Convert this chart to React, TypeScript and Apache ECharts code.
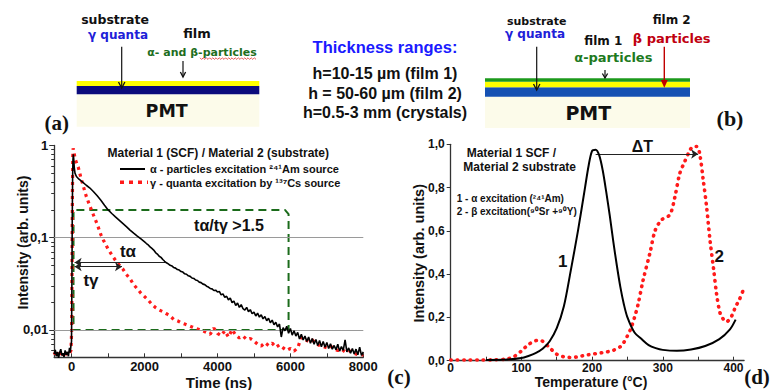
import React, { useEffect, useRef } from 'react';
import * as echarts from 'echarts';

const SANS = '"Liberation Sans", Arial, sans-serif';
const DIAG = '"DejaVu Sans", Verdana, sans-serif';
const SERIF = '"Liberation Serif", "Times New Roman", serif';

// ---------- (c) decay kinetics ----------
const decayTimeLabels = [0, 2000, 4000, 6000, 8000];
const decayTimeTicks = [0, 1000, 2000, 3000, 4000, 5000, 6000, 7000, 8000];
const decayIntensityLabels = [0.01, 0.1, 1];
const decayMinIntensity = 0.00506;
const gridLevels = [0.1, 0.01];

const alphaDecay: [number, number][] = [
  [-480, 0.0055], [-450, 0.0061], [-420, 0.0052], [-390, 0.0058], [-360, 0.005], [-330, 0.0057],
  [-300, 0.0062], [-270, 0.0053], [-240, 0.0056], [-210, 0.0051], [-180, 0.006], [-150, 0.0054],
  [-120, 0.0058], [-90, 0.0052], [-60, 0.0064], [-40, 0.0057], [-20, 0.0068], [-5, 0.0075],
  [5, 0.03], [15, 0.15], [25, 0.45], [35, 0.7], [45, 0.8], [55, 0.72], [70, 0.58], [90, 0.5],
  [130, 0.46], [200, 0.43], [300, 0.4], [400, 0.37], [500, 0.345], [600, 0.315], [700, 0.285],
  [800, 0.255], [900, 0.225], [1000, 0.2], [1100, 0.183], [1200, 0.168], [1300, 0.155],
  [1400, 0.143], [1500, 0.132], [1600, 0.121], [1700, 0.112], [1800, 0.104], [1900, 0.097],
  [2000, 0.09], [2050, 0.0865], [2100, 0.0835], [2150, 0.0795], [2200, 0.0765], [2250, 0.0735],
  [2300, 0.069], [2350, 0.0665], [2400, 0.063], [2450, 0.0612], [2500, 0.058],
  [2550, 0.0555], [2600, 0.0535], [2650, 0.052], [2700, 0.0502], [2750, 0.0494], [2800, 0.0475],
  [2850, 0.0468], [2900, 0.0452], [2950, 0.0446], [3000, 0.043], [3050, 0.0424], [3100, 0.0406],
  [3150, 0.0402], [3200, 0.0386], [3250, 0.0381], [3300, 0.0366], [3350, 0.0362], [3400, 0.0348],
  [3450, 0.0344], [3500, 0.033], [3550, 0.0326], [3600, 0.0314], [3650, 0.031], [3700, 0.0298],
  [3750, 0.0292], [3800, 0.0282], [3850, 0.0279], [3900, 0.0268], [3950, 0.027], [4000, 0.0258],
  [4050, 0.0262], [4100, 0.024], [4150, 0.0246], [4200, 0.0226], [4250, 0.0232], [4300, 0.0212],
  [4350, 0.0222], [4400, 0.0198], [4450, 0.0206], [4500, 0.0184], [4550, 0.0196], [4600, 0.0176],
  [4650, 0.0188], [4700, 0.017], [4750, 0.0164], [4800, 0.0176], [4850, 0.0158], [4900, 0.0166],
  [4950, 0.015], [5000, 0.0156], [5050, 0.0142], [5100, 0.0152], [5150, 0.0138], [5200, 0.0146],
  [5250, 0.0132], [5300, 0.014], [5350, 0.0126], [5400, 0.0134], [5450, 0.012], [5500, 0.0128],
  [5550, 0.0114], [5600, 0.0121], [5650, 0.0108], [5700, 0.0116], [5750, 0.0084], [5800, 0.0106],
  [5850, 0.0098], [5900, 0.011], [5950, 0.0092], [6000, 0.0104], [6050, 0.0088], [6100, 0.0098],
  [6150, 0.0086], [6200, 0.0094], [6250, 0.008], [6300, 0.009], [6350, 0.0078], [6400, 0.0086],
  [6450, 0.0075], [6500, 0.0084], [6550, 0.0072], [6600, 0.0081], [6650, 0.007], [6700, 0.0079],
  [6750, 0.0068], [6800, 0.0077], [6850, 0.0066], [6900, 0.0075], [6950, 0.0065], [7000, 0.0073],
  [7050, 0.0063], [7100, 0.0071], [7150, 0.0062], [7200, 0.0068], [7250, 0.0061], [7300, 0.007],
  [7350, 0.0059], [7400, 0.0066], [7450, 0.006], [7500, 0.0078], [7550, 0.0058], [7600, 0.0064],
  [7650, 0.0056], [7700, 0.0063], [7750, 0.0055], [7800, 0.0062], [7850, 0.0054], [7900, 0.0065],
  [7950, 0.0053], [8000, 0.0058],
];

const gammaDecay: [number, number][] = [
  [-480, 0.0054], [-420, 0.006], [-360, 0.0051], [-300, 0.0057], [-240, 0.0052], [-180, 0.0059],
  [-120, 0.0053], [-60, 0.0056], [-20, 0.006], [0, 0.01], [10, 0.05], [20, 0.3], [30, 0.75],
  [40, 0.93], [60, 0.85], [100, 0.7], [180, 0.58], [250, 0.45], [320, 0.36], [400, 0.28],
  [500, 0.22], [600, 0.175], [700, 0.14], [800, 0.108], [870, 0.094], [1000, 0.075], [1100, 0.065],
  [1200, 0.057], [1300, 0.051], [1400, 0.046], [1500, 0.04], [1600, 0.036], [1700, 0.031],
  [1800, 0.028], [1900, 0.025], [2000, 0.023], [2100, 0.021], [2200, 0.019], [2300, 0.0175],
  [2400, 0.0165], [2500, 0.0158], [2600, 0.015], [2700, 0.0142], [2800, 0.013], [2900, 0.0126],
  [3000, 0.012], [3100, 0.0116], [3200, 0.0112], [3300, 0.0108], [3400, 0.0104], [3500, 0.0101],
  [3600, 0.0098], [3700, 0.0094], [3800, 0.009], [3900, 0.0105], [4000, 0.0092], [4100, 0.0087],
  [4200, 0.0098], [4300, 0.0084], [4400, 0.0101], [4500, 0.0088], [4600, 0.0082], [4700, 0.0086],
  [4800, 0.0079], [4900, 0.0081], [5000, 0.0076], [5100, 0.007], [5200, 0.0067], [5300, 0.0073],
  [5400, 0.0068], [5500, 0.0072], [5600, 0.0065], [5700, 0.0069], [5800, 0.0064], [5900, 0.006],
  [6000, 0.0063], [6100, 0.0059], [6200, 0.0064], [6300, 0.0083], [6400, 0.0079], [6500, 0.0075],
  [6600, 0.0078], [6700, 0.0071], [6800, 0.0068], [6900, 0.0066], [7000, 0.0064], [7100, 0.0067],
  [7200, 0.0062], [7300, 0.006], [7400, 0.0062], [7500, 0.0058], [7600, 0.006], [7700, 0.0057],
  [7800, 0.0055], [7900, 0.0053], [8000, 0.0054],
];

const ratioBox: [number, number][] = [
  [5950, 0.01], [50, 0.01], [50, 0.2], [5850, 0.2], [5950, 0.18], [5950, 0.01],
];
const tAlpha = { from: 80, to: 2560, level: 0.054 };
const tGamma = { from: 80, to: 1380, level: 0.0485 };

// ---------- (d) thermoluminescence ----------
const tlTempLabels = [0, 100, 200, 300, 400];
const tlTempTicks = [0, 50, 100, 150, 200, 250, 300, 350, 400];
const tlIntensityLabels = [0, 0.2, 0.4, 0.6, 0.8, 1.0];
const alphaTLTemp = [50, 80, 100, 110, 120, 130, 140, 150, 160, 170, 180, 190, 195, 200, 205, 210, 215, 220, 225, 230, 235, 240, 245, 250, 260, 270, 280, 290, 300, 320, 340, 360, 380, 395, 403];
const alphaTL = [0.003, 0.005, 0.012, 0.022, 0.035, 0.055, 0.09, 0.15, 0.25, 0.42, 0.6, 0.8, 0.9, 0.97, 0.975, 0.95, 0.88, 0.78, 0.67, 0.55, 0.44, 0.34, 0.26, 0.2, 0.13, 0.1, 0.072, 0.058, 0.05, 0.046, 0.052, 0.068, 0.1, 0.145, 0.19];
const betaTLTemp = [0, 20, 40, 60, 80, 90, 100, 110, 120, 125, 130, 140, 150, 160, 170, 180, 190, 200, 210, 220, 230, 240, 245, 250, 255, 260, 265, 272, 282, 289, 298, 310, 317, 324, 331, 338, 343, 348, 352, 357, 362, 367, 372, 376, 381, 386, 390, 394, 398, 403, 408, 413];
const betaTL = [0.003, 0.003, 0.003, 0.004, 0.008, 0.02, 0.045, 0.075, 0.092, 0.095, 0.09, 0.06, 0.03, 0.018, 0.015, 0.018, 0.025, 0.03, 0.035, 0.04, 0.048, 0.065, 0.085, 0.115, 0.15, 0.2, 0.26, 0.37, 0.5, 0.6, 0.65, 0.675, 0.755, 0.865, 0.92, 0.97, 0.99, 0.99, 0.96, 0.84, 0.71, 0.55, 0.42, 0.31, 0.22, 0.19, 0.18, 0.19, 0.21, 0.25, 0.28, 0.32];
const deltaT = { from: 205, to: 350, level: 0.955 };

const lg = (v: number) => Math.log10(v);

function txt(x: number, y: number, text: string, font: string, fill = '#111', align = 'center', rotation = 0): any {
  return { type: 'text', x, y, rotation, silent: true, z: 100, style: { text, font, fill, align, verticalAlign: 'middle' } };
}
function ln(x1: number, y1: number, x2: number, y2: number, stroke = '#111', lineWidth = 1.2, lineDash?: number[]): any {
  return { type: 'line', silent: true, z: 100, shape: { x1, y1, x2, y2 }, style: { stroke, lineWidth, lineDash } };
}
function rect(x: number, y: number, width: number, height: number, fill: string): any {
  return { type: 'rect', silent: true, z: 90, shape: { x, y, width, height }, style: { fill } };
}
function chevron(x: number, y: number, stroke = '#111', w = 3.2, h = 6): any {
  return { type: 'polyline', silent: true, z: 100, shape: { points: [[x - w, y - h], [x, y], [x + w, y - h]] }, style: { stroke, lineWidth: 1.3, fill: null } };
}

function buildGraphics(): any[] {
  const g: any[] = [];
  // (a)
  g.push(rect(76.7, 94.3, 182.6, 32.4, '#fcfbea'));
  g.push(rect(76.7, 86, 182.6, 8.3, '#0b0b7c'));
  g.push(rect(76.7, 81, 182.6, 5, '#ffff00'));
  g.push(ln(121.7, 46.7, 121.7, 88));
  g.push(chevron(121.7, 88));
  g.push(ln(183, 61, 183, 77));
  g.push(chevron(183, 77, '#111', 2.6, 5));
  g.push(txt(115, 19.3, 'substrate', `bold 12.5px ${DIAG}`));
  g.push(txt(118, 35, 'γ quanta', `bold 12px ${DIAG}`, '#2020d8'));
  g.push(txt(197, 33, 'film', `bold 13px ${DIAG}`));
  g.push(txt(202, 52, 'α- and β-particles', `bold 11px ${DIAG}`, '#1e6e1e'));
  const squiggle: number[][] = [];
  for (let x = 200; x <= 257; x += 1.6) squiggle.push([x, 58.6 + ((Math.round((x - 200) / 1.6) % 2) ? 0.8 : -0.8)]);
  g.push({ type: 'polyline', silent: true, z: 100, shape: { points: squiggle }, style: { stroke: '#e03030', lineWidth: 0.8, fill: null } });
  g.push(txt(166.7, 110.5, 'PMT', `bold 17.5px ${DIAG}`));
  g.push(txt(56.7, 123, '(a)', `bold 21px ${SERIF}`));
  // middle text
  g.push(txt(385, 46.7, 'Thickness ranges:', `bold 16.5px ${SANS}`, '#1a1aff'));
  g.push(txt(385, 73.3, 'h=10-15 µm (film 1)', `bold 16px ${SANS}`));
  g.push(txt(385, 93.3, 'h = 50-60 µm (film 2)', `bold 16px ${SANS}`));
  g.push(txt(385, 112.7, 'h=0.5-3 mm (crystals)', `bold 16px ${SANS}`));
  // (b)
  g.push(rect(485, 96.7, 205, 31.3, '#fcfbea'));
  g.push(rect(485, 87.3, 205, 9.4, '#1551b3'));
  g.push(rect(485, 81.7, 205, 5.6, '#ffff00'));
  g.push(rect(485, 78.3, 205, 3.4, '#1c9a1c'));
  g.push(ln(536.7, 46.7, 536.7, 90));
  g.push(chevron(536.7, 90));
  g.push(ln(605, 70, 605, 78));
  g.push(chevron(605, 78, '#111', 2.6, 4.5));
  g.push(ln(664.3, 46.7, 664.3, 82, '#c00000', 1.4));
  g.push({ type: 'polygon', silent: true, z: 100, shape: { points: [[660.8, 80], [664.3, 87.8], [667.8, 80]] }, style: { fill: '#c00000' } });
  g.push(txt(536.7, 21.8, 'substrate', `bold 11px ${DIAG}`));
  g.push(txt(535, 33.8, 'γ quanta', `bold 12px ${DIAG}`, '#2020d8'));
  g.push(txt(671.7, 20, 'film 2', `bold 12px ${DIAG}`));
  g.push(txt(671.7, 38.3, 'β particles', `bold 13px ${DIAG}`, '#c00010'));
  g.push(txt(603.3, 40.7, 'film 1', `bold 12px ${DIAG}`));
  g.push(txt(613.3, 57.3, 'α-particles', `bold 13px ${DIAG}`, '#1e7a1e'));
  g.push(txt(588.3, 113.3, 'PMT', `bold 19px ${DIAG}`));
  g.push(txt(730, 118.3, '(b)', `bold 22px ${SERIF}`));
  // (c) annotations
  g.push(txt(218.3, 153.3, 'Material 1 (SCF) / Material 2 (substrate)', `bold 12px ${SANS}`));
  g.push(ln(120, 169, 145, 169, '#000', 2));
  g.push(txt(150, 169, 'α - particles excitation ²⁴¹Am source', `bold 11px ${SANS}`, '#111', 'left'));
  g.push(ln(120, 182.3, 148, 182.3, '#ff1a1a', 3.5, [4, 5]));
  g.push(txt(150, 182.5, 'γ - quanta excitation by ¹³⁷Cs source', `bold 11px ${SANS}`, '#111', 'left'));
  g.push(txt(229, 225, 'tα/tγ >1.5', `bold 16px ${SANS}`));
  g.push(txt(128, 251.7, 'tα', `bold 17px ${SANS}`));
  g.push(txt(91, 280, 'tγ', `bold 17px ${SANS}`));
  g.push(txt(22.5, 242.5, 'Intensity (arb. units)', `bold 14px ${SANS}`, '#111', 'center', Math.PI / 2));
  g.push(txt(219, 382, 'Time (ns)', `bold 15px ${SANS}`));
  g.push(txt(399, 377, '(c)', `bold 21px ${SERIF}`));
  // (d) annotations
  g.push(txt(466.7, 152.7, 'Material 1 SCF /', `bold 12px ${SANS}`, '#111', 'left'));
  g.push(txt(463.3, 166.7, 'Material 2 substrate', `bold 12px ${SANS}`, '#111', 'left'));
  g.push(txt(456.7, 198.3, '1 - α excitation (²⁴¹Am)', `bold 10px ${SANS}`, '#111', 'left'));
  g.push(txt(456.7, 211.7, '2 - β excitation(⁹⁰Sr +⁹⁰Y)', `bold 10px ${SANS}`, '#111', 'left'));
  g.push(txt(642.3, 146.7, 'ΔT', `bold 16px ${SANS}`));
  g.push(txt(562.7, 261.7, '1', `bold 17px ${SANS}`));
  g.push(txt(719.3, 256, '2', `bold 17px ${SANS}`));
  g.push(txt(419, 253.3, 'Intensity (arb. units)', `bold 14.5px ${SANS}`, '#111', 'center', Math.PI / 2));
  g.push(txt(591, 382, 'Temperature (°C)', `bold 14px ${SANS}`));
  g.push(txt(757, 377, '(d)', `bold 21px ${SERIF}`));
  return g;
}

function buildOption(): any {
  const yMinC = lg(decayMinIntensity);
  const minorLog: number[] = [];
  [-3, -2, -1].forEach((k) => {
    for (let m = 2; m <= 9; m++) {
      const v = k + Math.log10(m);
      if (v >= yMinC) minorLog.push(v);
    }
  });
  const axisLine = { onZero: false, lineStyle: { color: '#333', width: 1.3 } };
  const tickStyle = { color: '#333', width: 1 };
  const labelC = { fontSize: 13, fontWeight: 'bold', color: '#111', fontFamily: SANS };
  const labelD = { fontSize: 12, fontWeight: 'bold', color: '#111', fontFamily: SANS };
  return {
    animation: false,
    backgroundColor: '#ffffff',
    grid: [
      { left: 54.2, top: 145.4, width: 309.1, height: 211.9, outerBoundsMode: 'none' },
      { left: 450.7, top: 144.3, width: 293.4, height: 216.4, outerBoundsMode: 'none' },
    ],
    xAxis: [
      {
        gridIndex: 0, type: 'value', min: -480, max: 8000,
        axisLine,
        axisTick: { inside: true, length: 4, customValues: decayTimeTicks, lineStyle: tickStyle },
        axisLabel: { ...labelC, margin: 3, customValues: decayTimeLabels, formatter: (v: number) => String(Math.round(v)) },
        splitLine: { show: false },
      },
      {
        gridIndex: 1, type: 'value', min: 0, max: 415,
        axisLine,
        axisTick: { inside: true, length: 4, customValues: tlTempTicks, lineStyle: tickStyle },
        axisLabel: { ...labelD, margin: 1, customValues: tlTempLabels, formatter: (v: number) => String(Math.round(v)) },
        splitLine: { show: false },
      },
    ],
    yAxis: [
      {
        gridIndex: 0, type: 'value', min: yMinC, max: 0,
        axisLine,
        axisTick: { inside: false, length: 5, customValues: decayIntensityLabels.map(lg), lineStyle: tickStyle },
        axisLabel: {
          ...labelC, margin: 6, customValues: decayIntensityLabels.map(lg),
          formatter: (v: number) => String(Number(Math.pow(10, v).toPrecision(1))).replace('.', ','),
        },
        splitLine: { show: false },
      },
      {
        gridIndex: 0, type: 'value', min: yMinC, max: 0, position: 'left', offset: 0,
        axisLine: { show: false, onZero: false },
        axisTick: { show: true, inside: false, length: 3, customValues: minorLog, lineStyle: tickStyle },
        axisLabel: { show: false },
        splitLine: { show: false },
      },
      {
        gridIndex: 1, type: 'value', min: 0, max: 1,
        axisLine,
        axisTick: { inside: false, length: 4, customValues: tlIntensityLabels, lineStyle: tickStyle },
        axisLabel: {
          ...labelD, margin: 6, customValues: tlIntensityLabels,
          formatter: (v: number) => v.toFixed(1).replace('.', ','),
        },
        splitLine: { show: false },
      },
    ],
    series: [
      {
        name: 'ratio box', type: 'line', xAxisIndex: 0, yAxisIndex: 0, z: 3, silent: true,
        data: ratioBox.map(([t, v]) => [t, lg(v)]), symbol: 'none',
        lineStyle: { color: '#1b6b1b', width: 2, type: [8, 5] },
        markLine: {
          silent: true, symbol: ['none', 'none'], label: { show: false },
          lineStyle: { color: '#9a9a9a', width: 1, type: 'solid' },
          data: gridLevels.map((v) => ({ yAxis: lg(v) })),
        },
      },
      {
        name: 'γ - quanta', type: 'line', xAxisIndex: 0, yAxisIndex: 0, z: 4, silent: true,
        data: gammaDecay.map(([t, v]) => [t, lg(v)]), symbol: 'none',
        lineStyle: { color: '#ff1a1a', width: 3.2, type: [3, 4] },
      },
      {
        name: 'α - particles', type: 'line', xAxisIndex: 0, yAxisIndex: 0, z: 5, silent: true,
        data: alphaDecay.map(([t, v]) => [t, lg(v)]), symbol: 'none',
        lineStyle: { color: '#000', width: 1.6 },
        markLine: {
          silent: true, label: { show: false }, symbolSize: 7,
          lineStyle: { color: '#222', width: 1, type: 'solid' },
          data: [
            [{ coord: [tAlpha.from, lg(tAlpha.level)], symbol: 'arrow' }, { coord: [tAlpha.to, lg(tAlpha.level)], symbol: 'none' }],
            [{ coord: [tGamma.from, lg(tGamma.level)], symbol: 'arrow' }, { coord: [tGamma.to, lg(tGamma.level)], symbol: 'arrow' }],
          ],
        },
      },
      {
        name: '1', type: 'line', xAxisIndex: 1, yAxisIndex: 2, z: 5, silent: true, smooth: 0.3,
        data: alphaTLTemp.map((t, i) => [t, alphaTL[i]]), symbol: 'none',
        lineStyle: { color: '#000', width: 2 },
        markLine: {
          silent: true, label: { show: false }, symbolSize: 7,
          lineStyle: { color: '#222', width: 1, type: 'solid' },
          data: [[{ coord: [deltaT.from, deltaT.level], symbol: 'none' }, { coord: [deltaT.to, deltaT.level], symbol: 'arrow' }]],
        },
      },
      {
        name: '2', type: 'line', xAxisIndex: 1, yAxisIndex: 2, z: 4, silent: true, smooth: 0.3,
        data: betaTLTemp.map((t, i) => [t, betaTL[i]]), symbol: 'none',
        lineStyle: { color: '#ff1a1a', width: 3.6, type: [0.5, 6], cap: 'round' },
      },
    ],
    graphic: buildGraphics(),
  };
}

export default function App() {
  const ref = useRef<HTMLDivElement>(null);
  useEffect(() => {
    if (!ref.current) return;
    const chart = echarts.init(ref.current, null, { renderer: 'svg' });
    chart.setOption(buildOption());
    return () => chart.dispose();
  }, []);
  return (
    <div
      ref={ref}
      style={{ position: 'absolute', left: 0, top: 0, width: 771, height: 390, background: '#fff' }}
    />
  );
}
